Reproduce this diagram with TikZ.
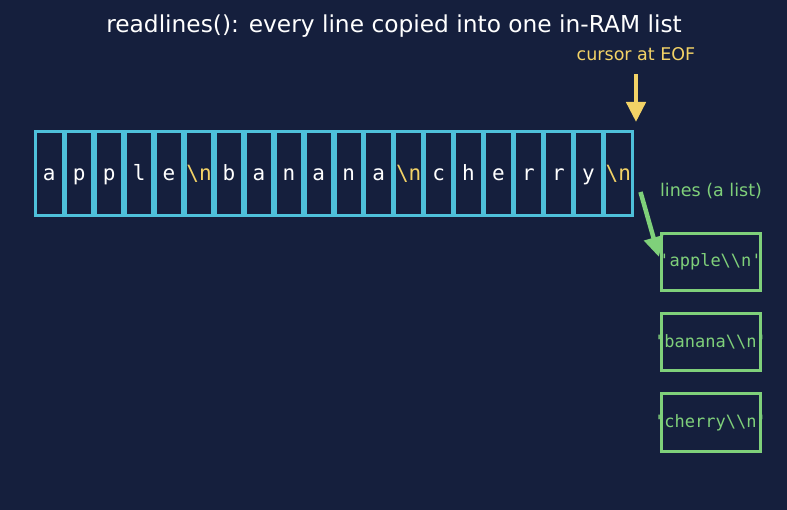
\documentclass[tikz,border=0pt]{standalone}
\usepackage{fontspec}
\setmainfont{DejaVu Sans}
\setmonofont{DejaVu Sans Mono}
\usetikzlibrary{arrows.meta}
\definecolor{bg}{HTML}{151F3D}
\definecolor{cyanb}{HTML}{4EC0DA}
\definecolor{ylw}{HTML}{F2D266}
\definecolor{grn}{HTML}{7FD07A}
\tikzset{
  cellbox/.style={draw=cyanb, line width=3pt, minimum width=27.5pt, minimum height=84pt, inner sep=0pt, outer sep=0pt, anchor=north west, font=\ttfamily\fontsize{21}{23}\selectfont, text height=17pt, text depth=3pt},
  listbox/.style={draw=grn, line width=3pt, minimum width=99pt, minimum height=57pt, inner sep=0pt},
  listtext/.style={text=grn, inner sep=0pt, font=\ttfamily\fontsize{17}{19}\selectfont},
  lbl/.style={font=\fontsize{17.5}{19}\selectfont, inner sep=0pt},
  arr/.style={line width=4.5pt, -{Triangle[length=20pt,width=19pt]}}
}
\begin{document}
\begin{tikzpicture}[x=1pt,y=-1pt]
\fill[bg] (0,0) rectangle (787,510);
\useasboundingbox (0,0) rectangle (787,510);
\node[font=\fontsize{23.3}{25}\selectfont, text=white, inner sep=0pt] (title) at (394,26) {readlines(): every line copied into one in-RAM list};
\foreach \c/\col [count=\i from 0] in {a/white,p/white,p/white,l/white,e/white,\textbackslash n/ylw,b/white,a/white,n/white,a/white,n/white,a/white,\textbackslash n/ylw,c/white,h/white,e/white,r/white,r/white,y/white,\textbackslash n/ylw}{
  \node[cellbox, text=\col] (c\i) at ({35.5+29.95*\i},132) {\c};
}
\node[lbl, text=ylw] (cur) at (636,54) {cursor at EOF};
\coordinate (curtop) at (636,74);
\draw[arr, draw=ylw, fill=ylw] (curtop) -- (636,122);
\node[lbl, text=grn] (lines) at (711,191) {lines (a list)};
\node[listbox] (l1) at (710.5,262) {};
\node[listbox] (l2) at (710.5,342) {};
\node[listbox] (l3) at (710.5,422.5) {};
\node[listtext] (t1) at (l1.center) {'apple\textbackslash\textbackslash n'};
\node[listtext] (t2) at (l2.center) {'banana\textbackslash\textbackslash n'};
\node[listtext] (t3) at (l3.center) {'cherry\textbackslash\textbackslash n'};
\coordinate (gs) at (640.5,192);
\draw[arr, draw=grn, fill=grn] (gs) -- (659,257);
\end{tikzpicture}
\end{document}
